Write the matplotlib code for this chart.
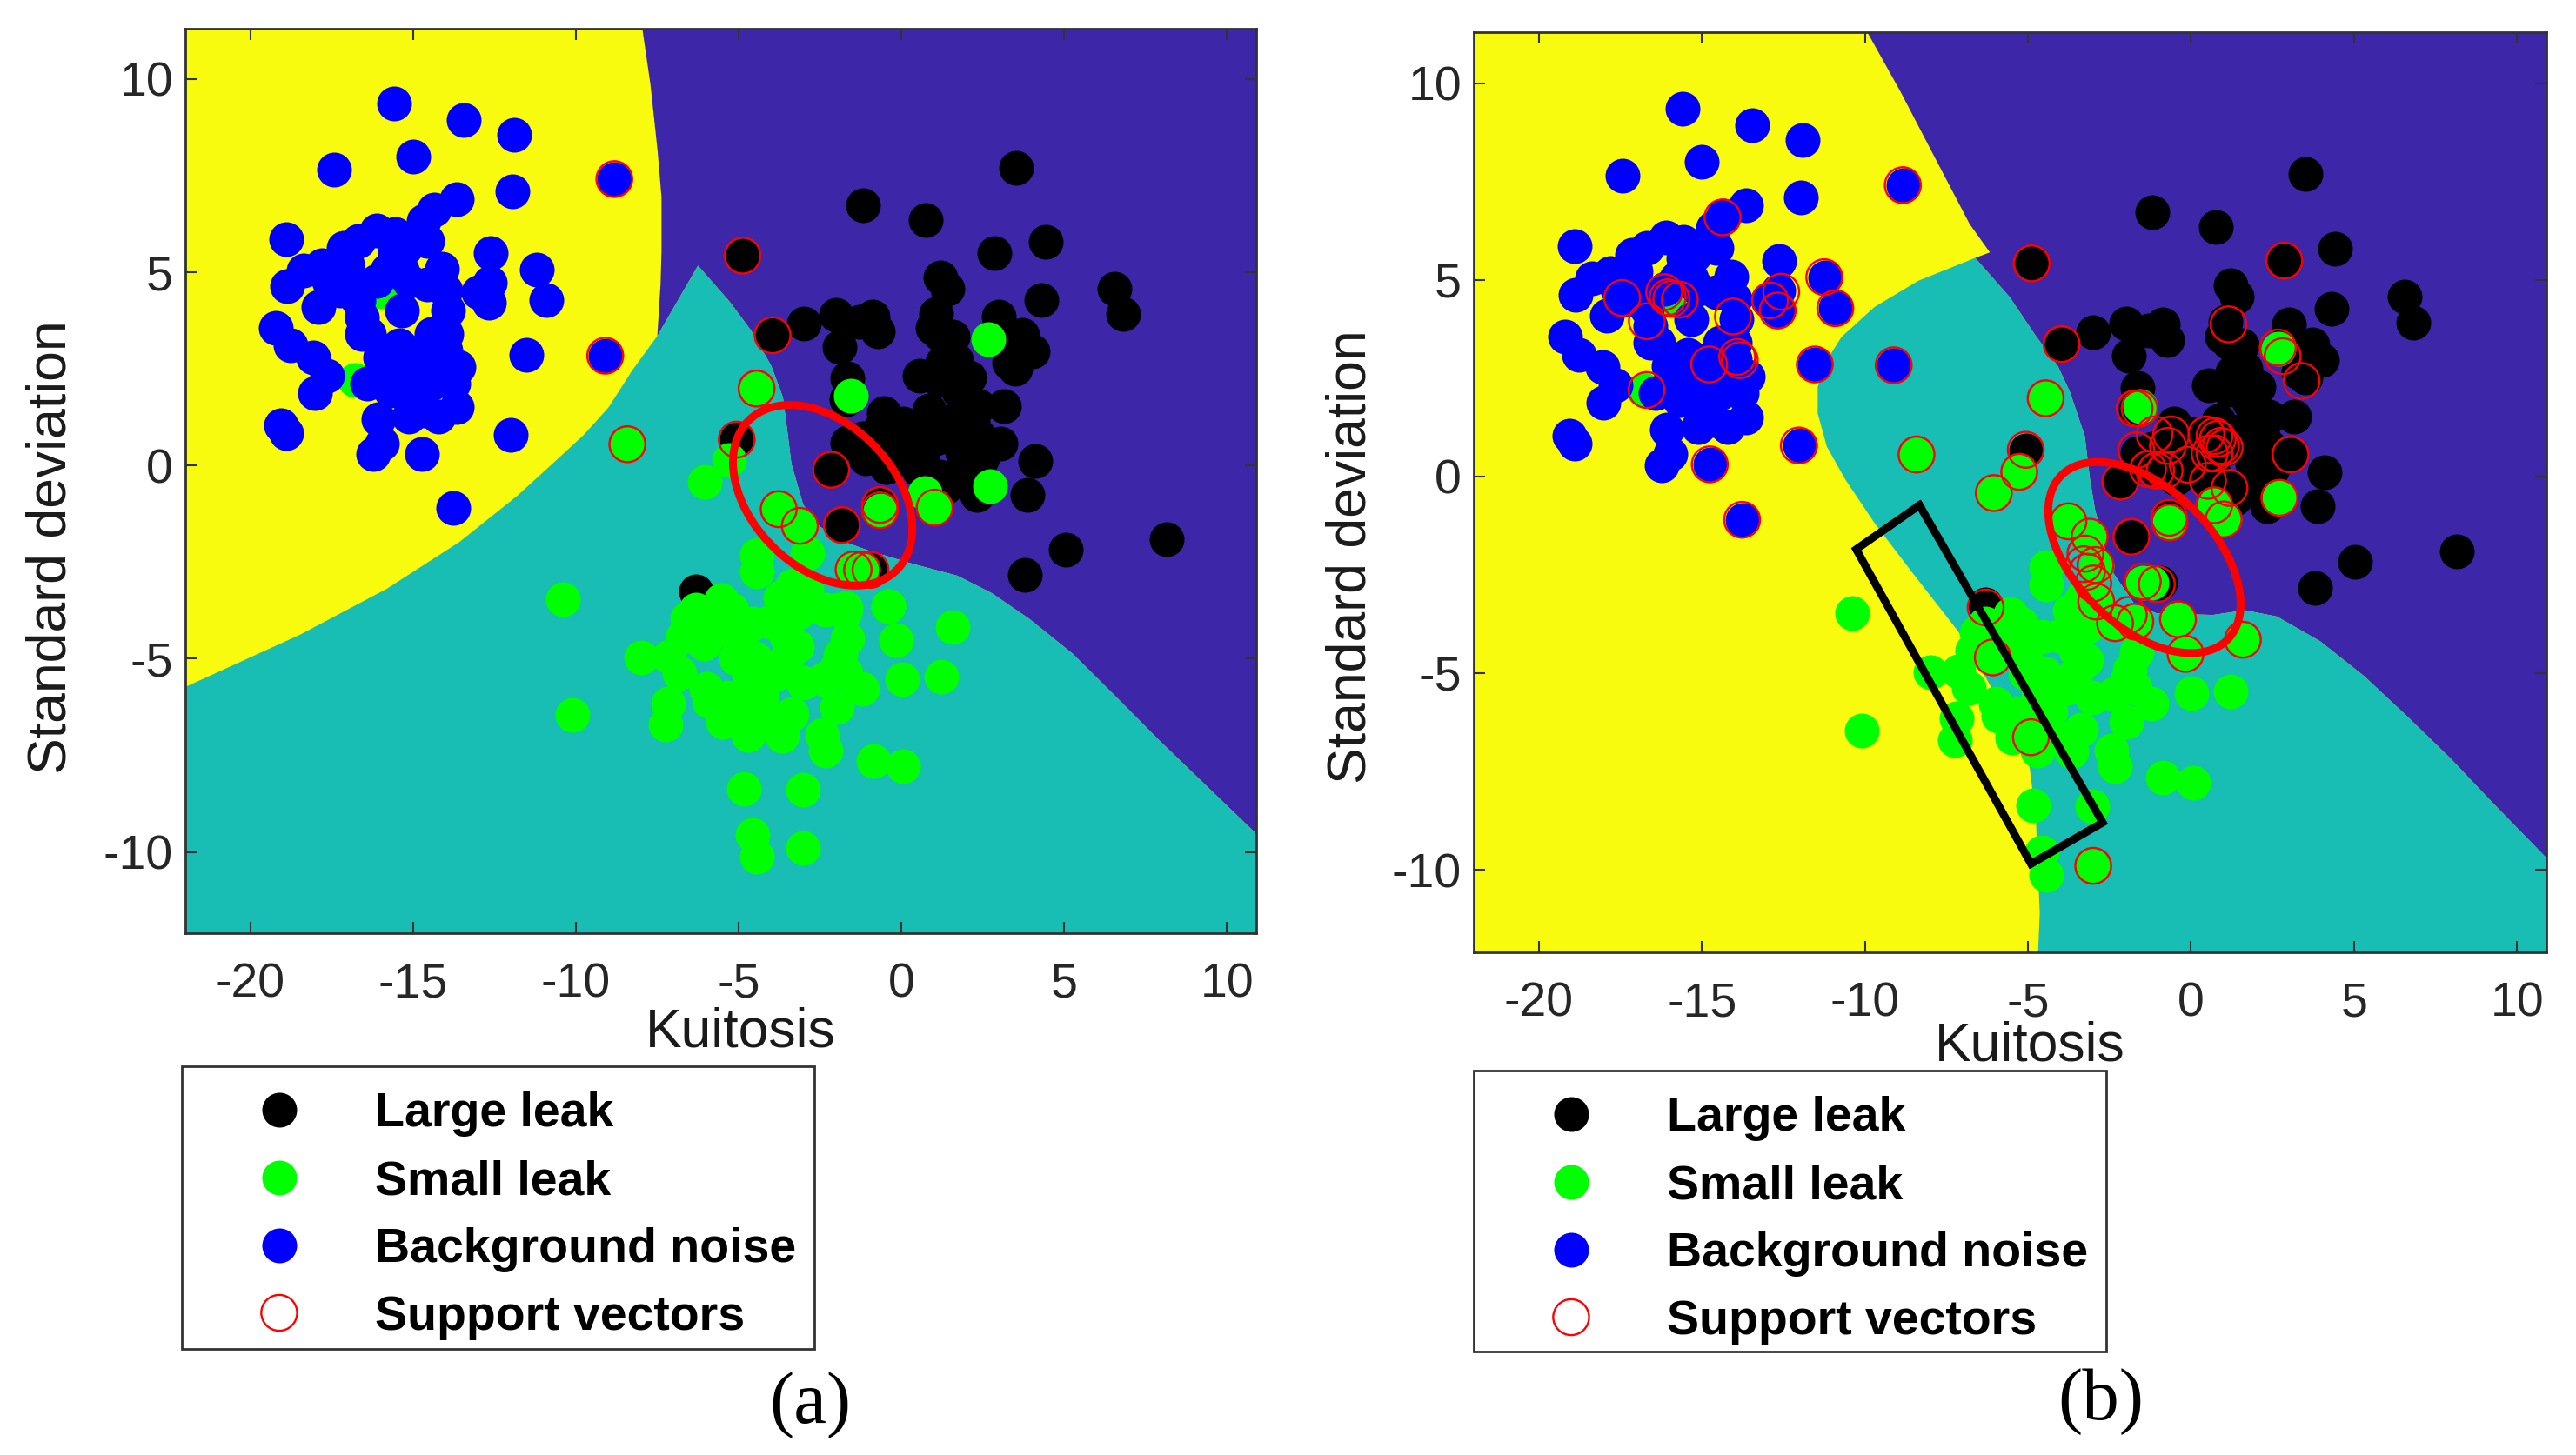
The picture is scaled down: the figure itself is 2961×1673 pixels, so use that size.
import numpy as np
import matplotlib
matplotlib.use('Agg')
import matplotlib.pyplot as plt
from matplotlib.patches import Rectangle

plt.rcParams['font.family'] = ['Liberation Sans', 'DejaVu Sans']
plt.rcParams['axes.unicode_minus'] = False

W, H = 2961, 1673

# scatter points, same for both panels (kurtosis, std)
large_leak = np.array([
    (3.52, 7.70), (-1.18, 6.73), (0.75, 6.35), (4.42, 5.79), (2.85, 5.50), (-4.88, 5.43),
    (1.21, 4.87), (1.41, 4.57), (6.55, 4.58), (6.82, 3.92), (4.30, 4.27), (-3.96, 3.37),
    (-3.00, 3.68), (-2.00, 3.89), (-0.88, 3.86), (-0.73, 3.48), (-1.29, 3.71), (-1.90, 3.07),
    (1.06, 3.93), (0.96, 3.56), (1.57, 3.33), (3.00, 3.86), (3.71, 3.37), (4.02, 2.96),
    (3.51, 2.51), (0.55, 2.32), (1.67, 2.73), (2.08, 2.28), (1.16, 2.21), (-1.65, 2.25),
    (-1.70, 1.72), (-0.53, 1.35), (3.15, 1.53), (2.38, 1.53), (0.85, 1.42), (0.04, 1.08),
    (1.57, 1.16), (-0.68, 0.93), (3.05, 0.56), (2.38, 0.78), (-1.65, 0.60), (-1.09, 0.19),
    (-0.47, -0.04), (0.34, 0.56), (1.06, 0.71), (-0.17, 0.49), (0.65, 0.19), (1.87, 0.34),
    (1.67, -0.26), (1.36, -0.56), (2.33, -0.75), (4.10, 0.11), (3.87, -0.75), (-5.06, 0.67),
    (-2.16, -0.11), (-0.66, -1.02), (-1.83, -1.54), (8.15, -1.91), (5.04, -2.17), (3.80, -2.84),
    (-6.31, -3.25), (-0.95, -2.70), (0.52, -0.11), (1.18, -0.29), (2.10, 1.00), (1.30, 0.90),
    (0.85, 1.01), (0.04, 0.56), (-0.78, 0.41), (-1.19, 0.71), (1.67, 0.71), (2.18, 1.16),
    (1.77, 1.91), (1.26, 2.66), (1.16, 3.41), (3.40, 2.96), (3.30, 2.66), (2.49, 0.19),
    (2.08, -0.19),
])

small_leak = np.array([
    (-16.80, 2.20), (-15.95, 4.50), (-8.42, 0.55), (-5.30, 0.14), (-6.04, -0.42), (-4.45, 1.99),
    (-1.55, 1.80), (2.67, 3.26), (2.72, -0.53), (0.73, -0.71), (1.02, -1.09), (-3.77, -1.13),
    (-3.12, -1.56), (-0.65, -1.16), (-1.47, -2.69), (-1.21, -2.70), (-4.44, -2.31), (-4.44, -2.74),
    (-2.89, -2.27), (-3.34, -3.10), (-3.73, -3.41), (-6.31, -3.73), (-5.54, -3.49), (-5.21, -3.73),
    (-6.57, -3.96), (-1.92, -3.73), (-1.75, -3.80), (-0.41, -3.65), (1.57, -4.17), (-4.57, -4.08),
    (-3.15, -3.80), (-3.53, -4.04), (-6.70, -4.43), (-6.05, -4.59), (-7.99, -4.97), (-7.15, -4.95),
    (-4.50, -4.99), (-5.08, -4.99), (-3.21, -4.67), (-1.66, -4.47), (-0.17, -4.51), (-1.88, -4.91),
    (-3.53, -4.99), (-6.83, -5.38), (-5.99, -5.77), (-3.02, -5.62), (-1.72, -5.38), (-1.21, -5.77),
    (0.02, -5.52), (1.22, -5.46), (-4.70, -5.70), (-4.31, -5.97), (-7.18, -6.15), (-7.24, -6.70),
    (-5.92, -6.09), (-5.47, -6.64), (-4.70, -6.96), (-1.98, -6.25), (-3.38, -6.44), (-3.66, -6.99),
    (-4.83, -6.40), (-2.44, -6.96), (-2.33, -7.37), (-0.87, -7.65), (0.06, -7.78), (-4.83, -8.36),
    (-3.02, -8.39), (-4.57, -9.56), (-4.44, -10.13), (-3.02, -9.90), (-10.40, -3.47), (-10.10, -6.45),
    (-2.91, -3.18), (-2.33, -3.73), (-1.71, -3.69), (-0.40, -3.63), (-6.08, -4.60), (-4.91, -6.63),
    (-4.05, -4.04), (-5.73, -4.04), (-5.08, -4.43), (-3.53, -4.43), (-2.89, -3.49), (-3.79, -5.38),
    (-4.70, -5.30), (-5.34, -6.01), (-2.37, -5.54), (-1.98, -5.22), (-4.05, -6.64),
])

background_noise = np.array([
    (-15.59, 9.36), (-13.45, 8.93), (-11.91, 8.56), (-15.00, 8.00), (-17.43, 7.65), (-8.82, 7.41),
    (-11.96, 7.10), (-13.66, 6.90), (-14.35, 6.63), (-14.67, 6.33), (-18.91, 5.86), (-16.11, 6.07),
    (-16.69, 5.81), (-12.63, 5.49), (-11.21, 5.06), (-12.65, 4.74), (-10.90, 4.29), (-12.99, 4.48),
    (-12.67, 4.22), (-18.87, 4.63), (-18.37, 5.04), (-17.81, 5.17), (-17.25, 5.30), (-17.92, 4.09),
    (-19.21, 3.56), (-18.77, 3.10), (-18.06, 2.79), (-17.64, 2.33), (-18.02, 1.88), (-19.07, 1.04),
    (-18.91, 0.83), (-16.07, 1.19), (-15.96, 0.57), (-16.24, 0.29), (-14.74, 0.30), (-12.00, 0.80),
    (-13.76, -1.10), (-11.53, 2.86), (-9.10, 2.84), (-16.41, 2.12), (-13.66, 1.51), (-14.67, 1.43),
    (-13.60, 2.55), (-13.94, 4.01), (-15.34, 4.01), (-16.58, 3.83), (-15.57, 5.55), (-14.56, 5.81),
    (-14.11, 5.08), (-16.13, 4.78), (-15.12, 4.78), (-16.02, 2.80), (-14.67, 2.98), (-13.99, 3.40),
    (-13.99, 2.55), (-15.34, 2.12), (-14.44, 2.12), (-15.01, 1.69), (-15.57, 2.55), (-14.44, 3.40),
    (-15.68, 2.98), (-16.35, 3.40), (-16.69, 4.26), (-15.79, 5.04), (-17.25, 4.87), (-15.57, 5.98),
    (-15.23, 2.98), (-16.02, 2.29), (-15.00, 2.55), (-14.44, 2.63), (-15.68, 1.94), (-15.12, 1.26),
    (-14.22, 1.26), (-14.00, 2.98), (-13.77, 2.12), (-16.58, 3.40), (-15.23, 5.64), (-14.78, 5.98),
    (-15.34, 5.04), (-14.56, 4.69), (-14.00, 4.52), (-17.59, 4.78), (-17.03, 5.21), (-16.69, 4.69),
    (-17.14, 5.64), (-17.25, 4.52), (-15.43, 3.10),
])

sv_a = np.array([
    (-4.88, 5.43), (-3.96, 3.37), (-5.06, 0.67), (-2.16, -0.11), (-1.83, -1.54), (-0.66, -1.02),
    (-0.66, -1.16), (-0.95, -2.70), (-8.82, 7.41), (-9.10, 2.84), (-8.42, 0.55), (-4.45, 1.99),
    (-3.77, -1.13), (-3.12, -1.56), (1.02, -1.09), (-1.47, -2.69), (-1.21, -2.70),
])

sv_b = np.array([
    (-8.84, 7.41), (-14.37, 6.59), (-17.45, 4.54), (-16.16, 4.69), (-16.05, 4.56), (-15.94, 4.52),
    (-15.68, 4.50), (-16.69, 3.95), (-14.05, 4.07), (-12.91, 4.48), (-12.57, 4.70), (-12.68, 4.22),
    (-11.25, 5.07), (-10.91, 4.28), (-14.78, 2.85), (-13.92, 3.04), (-13.84, 2.96), (-11.54, 2.85),
    (-9.12, 2.83), (-16.70, 2.20), (-12.03, 0.79), (-14.76, 0.31), (-13.77, -1.10), (-8.42, 0.56),
    (-4.46, 1.99), (-6.05, -0.42), (-5.27, 0.12), (-5.07, 0.68), (-4.89, 5.42), (-3.97, 3.37),
    (2.86, 5.49), (1.15, 3.87), (2.66, 3.28), (2.81, 3.06), (3.39, 2.43), (-1.58, 1.73),
    (-1.73, 1.73), (3.05, 0.56), (2.71, -0.54), (-0.66, -1.17), (-0.67, -1.05), (-1.83, -1.53),
    (-2.17, -0.13), (-6.30, -3.33), (-6.08, -4.60), (-4.91, -6.63), (-3.00, -9.90), (-3.76, -1.14),
    (-3.11, -1.53), (-3.24, -1.96), (-3.29, -2.23), (-2.93, -2.25), (-3.19, -2.42), (-3.00, -2.72),
    (-2.91, -3.18), (-2.33, -3.73), (-1.91, -3.52), (-1.71, -3.69), (-1.48, -2.67), (-1.05, -2.74),
    (-0.40, -3.63), (-0.17, -4.51), (1.59, -4.15), (0.71, -0.73), (1.00, -1.09), (-1.12, 1.07),
    (-0.61, 1.07), (-1.68, 0.67), (-0.71, 0.78), (-1.32, 0.19), (-1.07, 0.15), (-0.81, 0.15),
    (0.47, 1.07), (0.72, 1.03), (0.82, 0.96), (0.92, 0.78), (0.57, 0.59), (0.72, 0.59),
    (1.03, 0.74), (-0.10, 0.30), (0.52, -0.11), (1.18, -0.29),
])

# decision regions, boundary curves
a_yellow_indigo = [(-7.96, 11.3), (-7.71, 9.85), (-7.49, 8.13), (-7.37, 6.93), (-7.37, 5.55),
                   (-7.40, 4.69), (-7.50, 3.35)]
a_yellow_teal = [(-22, -5.73), (-18.48, -4.38), (-15.81, -3.19), (-13.58, -1.98), (-11.81, -0.79),
                 (-10.74, 0.03), (-9.76, 0.79), (-9.00, 1.50), (-8.27, 2.46), (-7.50, 3.35)]
a_teal_indigo = [(-6.25, 5.17), (-5.27, 4.23), (-4.61, 3.48), (-4.00, 2.58), (-3.64, 1.76),
                 (-3.50, 0.86), (-3.38, 0.04), (-3.02, -1.01), (-2.51, -1.58), (-1.70, -1.99),
                 (-0.98, -2.21), (0.37, -2.55), (1.71, -2.85), (2.77, -3.30), (3.93, -3.97),
                 (5.26, -4.87), (6.60, -5.99), (7.93, -7.12), (9.26, -8.20), (10.9, -9.53)]

b_yellow_indigo = [(-9.93, 11.3), (-8.92, 9.80), (-7.80, 8.02), (-6.79, 6.42), (-6.17, 5.70)]
b_yellow_teal = [(-6.62, 5.56), (-8.36, 4.98), (-9.71, 4.31), (-10.72, 3.55), (-11.17, 2.96),
                 (-11.45, 2.28), (-11.45, 1.60), (-11.17, 0.76), (-10.60, -0.08), (-9.71, -1.18),
                 (-8.57, -2.42), (-7.14, -3.94), (-6.29, -5.12), (-5.62, -6.14), (-4.95, -7.40),
                 (-4.76, -8.67), (-4.64, -11.10), (-4.69, -12.1)]
b_teal_indigo = [(-6.62, 5.56), (-5.56, 4.56), (-4.79, 3.61), (-4.08, 2.80), (-3.71, 2.14),
                 (-3.26, 1.03), (-3.10, -0.07), (-2.95, -0.82), (-2.48, -2.34), (-1.71, -3.27),
                 (-1.05, -3.48), (0.67, -3.52), (1.65, -3.40), (2.63, -3.56), (3.96, -4.19),
                 (5.30, -5.07), (6.63, -6.10), (7.96, -7.17), (9.30, -8.34), (10.9, -9.70)]

# red ellipses: centre x, centre y, half width, half height, tilt term
ellipse_a = (-2.42, -0.77, 2.755, 2.335, -0.367)
ellipse_b = (-1.43, -2.06, 2.95, 2.43, -0.485)
black_box = [(-8.33, -0.73), (-2.71, -8.80), (-4.91, -9.85), (-10.27, -1.85), (-8.33, -0.73)]

x_ticks = [-20, -15, -10, -5, 0, 5, 10]
y_ticks = [-10, -5, 0, 5, 10]
legend_labels = ['Large leak', 'Small leak', 'Background noise', 'Support vectors']

YELLOW = '#F9FB0E'
TEAL = '#18BDB4'
INDIGO = '#3E26A8'
DARK = '#333333'
DOT = 830
RING = 880


def add_axes(left, right, top, bottom):
    return plt.axes([left / W, 1 - bottom / H, (right - left) / W, (bottom - top) / H])


def draw_ellipse(ax, params):
    cx, cy, ax_half, ay_half, rho = params
    t = np.linspace(0, 2 * np.pi, 300)
    x = cx + ax_half * (rho * np.sin(t) + np.sqrt(1 - rho ** 2) * np.cos(t))
    y = cy + ay_half * np.sin(t)
    ax.plot(x, y, color='red', lw=6.5, zorder=6)


def draw_panel(ax, yellow_indigo, yellow_teal, teal_indigo, peak, sv, ellipse):
    xmin, xmax, ymin, ymax = -22, 10.9, -12.1, 11.3
    ax.set_facecolor(YELLOW)
    indigo = yellow_indigo + peak + teal_indigo + [(xmax, ymax)]
    teal = yellow_teal + peak + teal_indigo + [(xmax, ymin), (xmin, ymin)]
    if yellow_teal[0][0] != xmin:
        teal = yellow_teal + [(xmax, ymin)] + [(xmax, teal_indigo[-1][1])] + teal_indigo[::-1]
    ax.fill(*zip(*indigo), color=INDIGO, lw=0, zorder=1)
    ax.fill(*zip(*teal), color=TEAL, lw=0, zorder=1)

    h1 = ax.scatter(large_leak[:, 0], large_leak[:, 1], s=DOT, c='k', lw=0, zorder=3)
    h2 = ax.scatter(small_leak[:, 0], small_leak[:, 1], s=DOT, c='#00FF00', lw=0, zorder=3.1)
    h3 = ax.scatter(background_noise[:, 0], background_noise[:, 1], s=DOT, c='#0000FF', lw=0, zorder=3.2)
    h4 = ax.scatter(sv[:, 0], sv[:, 1], s=RING, facecolors='none', edgecolors='red', lw=1.7, zorder=4)
    draw_ellipse(ax, ellipse)

    ax.set_xlim(xmin, xmax)
    ax.set_ylim(ymin, ymax)
    ax.set_xticks(x_ticks)
    ax.set_yticks(y_ticks)
    ax.tick_params(direction='in', top=True, right=True, length=9.5, width=1.5, color=DARK,
                   labelsize=40, labelcolor='#262626')
    ax.tick_params(axis='x', pad=24)
    ax.tick_params(axis='y', pad=10)
    for sp in ax.spines.values():
        sp.set_color(DARK)
        sp.set_linewidth(2)
        sp.set_zorder(7)
    return [h1, h2, h3, h4]


def draw_legend(handles, left, top, right, bottom):
    # the text sits low in the source box, so the frame is its own rectangle
    fig.add_artist(Rectangle((left / W, 1 - bottom / H), (right - left) / W, (bottom - top) / H,
                             transform=fig.transFigure, facecolor='white', edgecolor=DARK, lw=2))
    fig.legend(handles, legend_labels, loc='upper left',
               bbox_to_anchor=(left / W, 1 - (top + 10) / H), bbox_transform=fig.transFigure,
               borderaxespad=0, borderpad=0.35, handlelength=3.33, handletextpad=0.31,
               labelspacing=0.465, scatterpoints=1, scatteryoffsets=[0.5], frameon=False,
               prop={'family': 'Liberation Sans', 'weight': 'bold', 'size': 40})


fig = plt.figure(figsize=(W / 100, H / 100), dpi=100)

ax1 = add_axes(213, 1444, 33, 1073)
h = draw_panel(ax1, a_yellow_indigo, a_yellow_teal, a_teal_indigo, [(-6.25, 5.17)], sv_a, ellipse_a)
draw_legend(h, 209, 1226, 936, 1551)

ax2 = add_axes(1694, 2927, 37, 1095)
h = draw_panel(ax2, b_yellow_indigo, b_yellow_teal, b_teal_indigo, [], sv_b, ellipse_b)
ax2.plot(*zip(*black_box), color='k', lw=6.5, solid_joinstyle='miter', zorder=6)
draw_legend(h, 1694, 1231, 2421, 1554)

# axis labels and panel letters are placed by hand, the source had them close to the ticks
fig.text(851 / W, 1 - 1204 / H, 'Kuitosis', fontsize=45, ha='center', va='baseline', color='#1a1a1a')
fig.text(2333 / W, 1 - 1219 / H, 'Kuitosis', fontsize=45, ha='center', va='baseline', color='#1a1a1a')
fig.text(59 / W, 1 - 629 / H, 'Standard deviation', fontsize=45, rotation=90, ha='center', va='center', color='#1a1a1a')
fig.text(1553 / W, 1 - 640 / H, 'Standard deviation', fontsize=45, rotation=90, ha='center', va='center', color='#1a1a1a')
fig.text(931 / W, 1 - 1615 / H, '(a)', fontsize=61, family='Liberation Serif', ha='center', va='center')
fig.text(2415 / W, 1 - 1612 / H, '(b)', fontsize=61, family='Liberation Serif', ha='center', va='center')

fig.savefig('out.png', dpi=100)
